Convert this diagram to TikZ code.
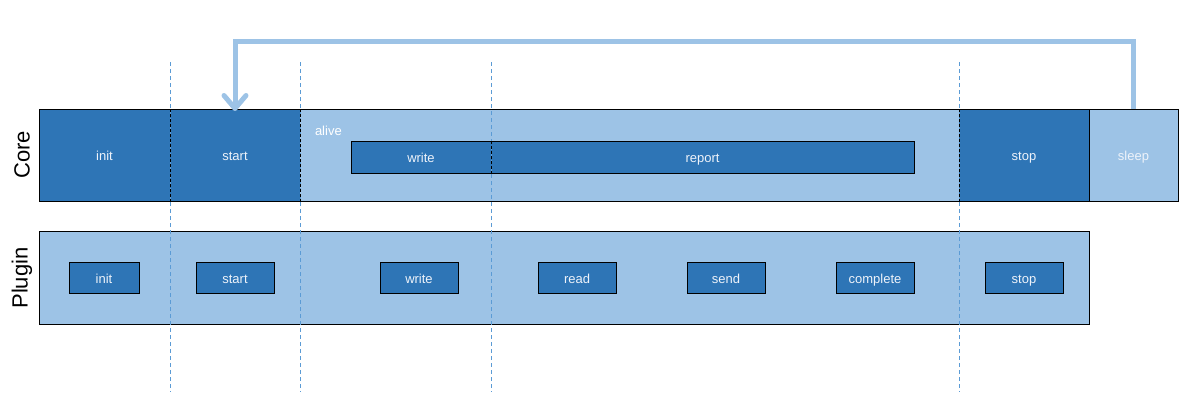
\documentclass[tikz,border=0pt]{standalone}
\usepackage{fontspec}
\setmainfont{Liberation Sans}
\usetikzlibrary{arrows.meta}
\definecolor{dark}{HTML}{2E75B6}
\definecolor{light}{HTML}{9DC3E6}
\definecolor{guide}{HTML}{5B9BD5}
\definecolor{txt}{HTML}{EEF3FA}
\begin{document}
\begin{tikzpicture}[x=1pt,y=-1pt,
  box/.style={rectangle, inner sep=0pt, outer sep=0pt, text=txt, font=\fontsize{13}{15}\selectfont, text height=13pt, text depth=1.5pt},
  darkbox/.style={box, fill=dark},
  lightbox/.style={box, fill=light},
  pbox/.style={box, fill=dark, draw=black, line width=0.9pt, minimum width=78pt, minimum height=31pt},
  lanelabel/.style={rotate=90, inner sep=0pt, font=\fontsize{22}{24}\selectfont},
  guideline/.style={guide, dashed, dash pattern=on 4pt off 3pt, line width=0.9pt},
  blackdash/.style={black, dash pattern=on 3pt off 2pt, line width=0.9pt},
  frame/.style={draw=black, line width=1pt},
  loop/.style={light, line width=5pt, -{Straight Barb[length=13pt, width=22pt, round]}}
]
\useasboundingbox (0,0) rectangle (1198,412);

% ---- Core lane
\node[darkbox, minimum width=131pt, minimum height=92pt] (cinit) at (104.5,155) {init};
\node[darkbox, minimum width=130pt, minimum height=92pt] (cstart) at (235,155) {start};
\node[lightbox, minimum width=659pt, minimum height=92pt] (calive) at (629.5,155) {};
\node[darkbox, minimum width=130pt, minimum height=92pt] (cstop) at (1024,155) {stop};
\node[lightbox, minimum width=89pt, minimum height=92pt] (csleep) at (1133.5,155) {sleep};
\node[box, anchor=west, text=white] (alivelbl) at (315,130) {alive};

\node[darkbox, minimum width=140pt, minimum height=32pt] (cwrite) at (421,157) {write};
\node[darkbox, minimum width=423pt, minimum height=32pt] (creport) at (702.5,157) {report};

% ---- Plugin lane
\node[lightbox, frame, minimum width=1050pt, minimum height=93pt] (plugin) at (564,277.5) {};
\node[pbox, minimum width=70pt] (pinit) at (104,277.5) {init};
\node[pbox] (pstart) at (235,277.5) {start};
\node[pbox] (pwrite) at (419,277.5) {write};
\node[pbox] (pread) at (577,277.5) {read};
\node[pbox] (psend) at (726,277.5) {send};
\node[pbox] (pcomplete) at (875,277.5) {complete};
\node[pbox] (pstop) at (1024,277.5) {stop};

\node[lanelabel] (corelbl) at (22,155) {Core};
\node[lanelabel] (pluginlbl) at (22,278) {Plugin};

% ---- guide lines
\foreach \i/\x in {1/170,2/300,3/491,4/959}{
  \coordinate (gt\i) at (\x,62);
  \coordinate (gb\i) at (\x,392);
  \draw[guideline] (gt\i) -- (gb\i);
}

% ---- core borders
\draw[frame] (cinit.north west) rectangle (csleep.south east);
\draw[frame] (cwrite.north west) rectangle (creport.south east);
\draw[frame] (csleep.north west) -- (csleep.south west);
\draw[blackdash] (cstart.north west) -- (cstart.south west);
\draw[blackdash] (calive.north west) -- (calive.south west);
\draw[blackdash] (cstop.north west) -- (cstop.south west);
\draw[blackdash] (creport.north west) -- (creport.south west);

% ---- feedback loop
\draw[loop] (csleep.north) -- ++(0,-67) -| ([yshift=-2pt]cstart.north);
\end{tikzpicture}
\end{document}
